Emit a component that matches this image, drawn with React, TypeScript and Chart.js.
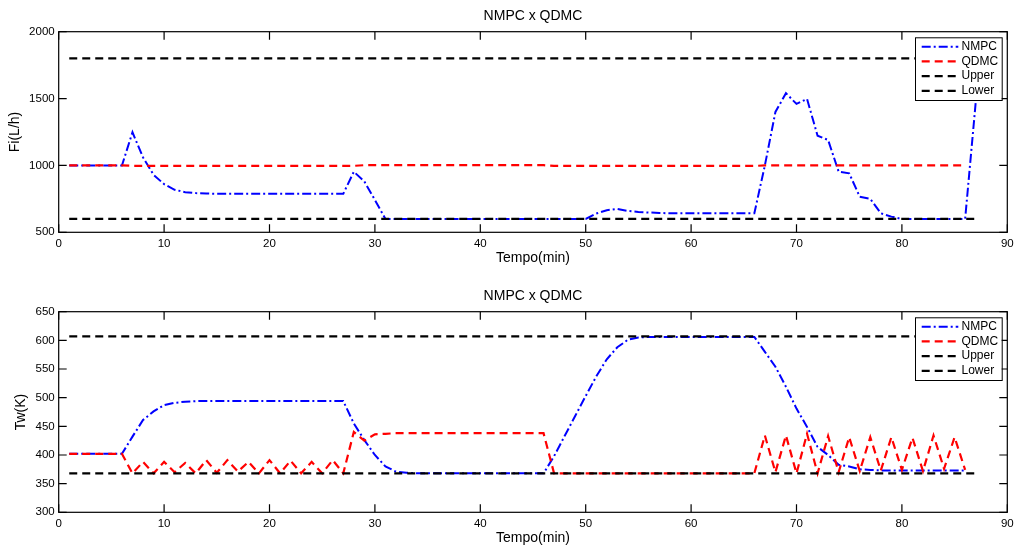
import React, { useEffect, useRef } from "react";
import { Chart, registerables } from "chart.js";
Chart.register(...registerables);

// ---- Data (time in minutes: sample index + 1) ----
const nmpcFi = [
  1000, 1000, 1000, 1000, 1000, 1000,
  1248, 1060, 930, 860, 818, 800, 793, 790,
  788, 788, 788, 788, 788, 788, 788, 788, 788, 788, 788, 788, 788,
  953, 880, 742,
  600, 600, 600, 600, 600, 600, 600, 600, 600, 600, 600, 600, 600, 600, 600, 600, 600, 600, 600, 600,
  640, 665, 675, 660, 652, 648, 645,
  642, 642, 642, 642, 642, 642, 642, 642, 642,
  1000, 1400, 1540, 1460, 1497, 1222, 1190, 953, 941, 766, 750, 642, 617,
  600, 600, 600, 600, 600, 600, 600,
  1470,
];
const qdmcFi = [
  1000, 1000, 1000, 1000, 1000, 1000,
  997, 997, 997, 997, 997, 997, 997, 997, 997, 997, 997, 997, 997, 997, 997, 997, 997, 997, 997, 997, 997, 997,
  1002, 1002, 1002, 1002, 1002, 1002, 1002, 1002, 1002, 1002, 1002, 1002, 1002, 1002, 1002, 1002, 1002, 1002,
  996, 996, 996, 996, 996, 996, 996, 996, 996, 996, 996, 996, 996, 996, 996, 996, 996, 996, 996, 996,
  1000, 1000, 1000, 1000, 1000, 1000, 1000, 1000, 1000, 1000, 1000, 1000, 1000, 1000, 1000, 1000, 1000, 1000, 1000, 1000,
];
const nmpcTw = [
  402, 402, 402, 402, 402, 402,
  432, 461, 476, 487, 491, 493,
  494, 494, 494, 494, 494, 494, 494, 494, 494, 494, 494, 494, 494, 494, 494,
  455, 426, 400, 380, 371, 369,
  368, 368, 368, 368, 368, 368, 368, 368, 368, 368, 368, 368, 368,
  398, 433, 468, 503, 537, 567, 588, 601, 605,
  606, 606, 606, 606, 606, 606, 606, 606, 606, 606, 606,
  580, 554, 519, 481, 449, 414, 400, 383, 380, 375, 374,
  373, 373, 373, 373, 373, 373, 373, 373, 373,
];
const qdmcTw = [
  402, 402, 402, 402, 402, 402,
  368, 388, 368, 388, 370, 386, 368, 391, 369, 391, 371, 388, 368, 391, 368, 390, 368, 388, 368, 391, 368,
  440, 425, 436, 437,
  438, 438, 438, 438, 438, 438, 438, 438, 438, 438, 438, 438, 438, 438, 438,
  368, 368, 368, 368, 368, 368, 368, 368, 368, 368, 368, 368, 368, 368, 368, 368, 368, 368, 368, 368,
  434, 370, 434, 368, 437, 368, 433, 370, 431, 372, 431, 373, 431, 374, 430, 372, 434, 376, 431, 374,
];
const limitTimes = [1, 87];
const fiUpper = [1800, 1800];
const fiLower = [600, 600];
const twUpper = [607, 607];
const twLower = [368, 368];

const xTicks = { min: 0, max: 90, step: 10 };
const fiTicks = { min: 500, max: 2000, step: 500 };
const twTicks = { min: 300, max: 650, step: 50 };

const seriesLabels = ["NMPC", "QDMC", "Upper", "Lower"];
const FONT = "'Liberation Sans', Arial, Helvetica, sans-serif";

const W = 1027;
const H = 270;
const AREA_RIGHT = 1007.3;
const AREA_LEFT = 58.7;
const AREA_TOP = 31.7;
const AREA_BOTTOM = 232.3;

const toPts = (vals: number[]) => vals.map((v, i) => ({ x: i + 1, y: v }));
const toLimitPts = (vals: number[]) => vals.map((v, i) => ({ x: limitTimes[i], y: v }));

const matlabPlugin = {
  id: "matlabFrame",
  afterDraw(chart: any, _args: any, opts: any) {
    const ctx = chart.ctx as CanvasRenderingContext2D;
    const a = chart.chartArea;
    const xs = chart.scales.x;
    const ys = chart.scales.y;
    ctx.save();
    ctx.strokeStyle = "#000";
    ctx.lineWidth = 1.2;
    ctx.setLineDash([]);
    ctx.strokeRect(a.left, a.top, a.right - a.left, a.bottom - a.top);
    const tl = 8;
    ctx.beginPath();
    xs.ticks.forEach((t: any) => {
      const px = xs.getPixelForValue(t.value);
      ctx.moveTo(px, a.bottom);
      ctx.lineTo(px, a.bottom - tl);
      ctx.moveTo(px, a.top);
      ctx.lineTo(px, a.top + tl);
    });
    ys.ticks.forEach((t: any) => {
      const py = ys.getPixelForValue(t.value);
      ctx.moveTo(a.left, py);
      ctx.lineTo(a.left + tl, py);
      ctx.moveTo(a.right, py);
      ctx.lineTo(a.right - tl, py);
    });
    ctx.stroke();

    ctx.fillStyle = "#000";
    ctx.font = `14px ${FONT}`;
    ctx.textAlign = "center";
    ctx.textBaseline = "middle";
    const cx = (a.left + a.right) / 2;
    ctx.fillText(opts.title, cx, 16.5);
    ctx.fillText(opts.xLabel, cx, 258);
    ctx.save();
    ctx.translate(opts.yLabelX, (a.top + a.bottom) / 2);
    ctx.rotate(-Math.PI / 2);
    ctx.fillText(opts.yLabel, 0, 0);
    ctx.restore();

    const lx = 915, ly = 37.3, lw = 86.7, lh = 62.7;
    ctx.fillStyle = "#fff";
    ctx.fillRect(lx, ly, lw, lh);
    ctx.strokeStyle = "#000";
    ctx.lineWidth = 1;
    ctx.setLineDash([]);
    ctx.strokeRect(lx + 0.5, ly + 0.5, lw, lh);
    ctx.font = `12px ${FONT}`;
    ctx.textAlign = "left";
    ctx.textBaseline = "middle";
    chart.data.datasets.forEach((ds: any, i: number) => {
      const yy = ly + 9.4 + i * 14.7;
      ctx.beginPath();
      ctx.strokeStyle = ds.borderColor;
      ctx.lineWidth = ds.borderWidth;
      ctx.setLineDash(ds.borderDash || []);
      ctx.moveTo(921.7, yy);
      ctx.lineTo(958.3, yy);
      ctx.stroke();
      ctx.setLineDash([]);
      ctx.fillStyle = "#000";
      ctx.fillText(ds.label, 961.5, yy);
    });
    ctx.restore();
  },
};

function buildConfig(
  nmpc: number[],
  qdmc: number[],
  upper: number[],
  lower: number[],
  yt: { min: number; max: number; step: number },
  yLabel: string,
  yLabelX: number
): any {
  return {
    type: "line",
    data: {
      datasets: [
        {
          label: seriesLabels[0],
          data: toPts(nmpc),
          borderColor: "#0000ff",
          borderWidth: 2,
          borderDash: [9, 3, 2, 3],
          pointRadius: 0,
          tension: 0,
          order: 3,
        },
        {
          label: seriesLabels[1],
          data: toPts(qdmc),
          borderColor: "#ff0000",
          borderWidth: 2.2,
          borderDash: [8, 5],
          pointRadius: 0,
          tension: 0,
          order: 2,
        },
        {
          label: seriesLabels[2],
          data: toLimitPts(upper),
          borderColor: "#000000",
          borderWidth: 2.2,
          borderDash: [8, 5],
          pointRadius: 0,
          order: 1,
        },
        {
          label: seriesLabels[3],
          data: toLimitPts(lower),
          borderColor: "#000000",
          borderWidth: 2.2,
          borderDash: [8, 5],
          pointRadius: 0,
          order: 0,
        },
      ],
    },
    options: {
      animation: false,
      responsive: false,
      maintainAspectRatio: false,
      layout: { padding: { left: 0, right: W - AREA_RIGHT, top: AREA_TOP, bottom: 0 } },
      plugins: {
        legend: { display: false },
        tooltip: { enabled: false },
        title: { display: false },
        matlabFrame: { title: "NMPC x QDMC", xLabel: "Tempo(min)", yLabel, yLabelX },
      },
      scales: {
        x: {
          type: "linear",
          min: xTicks.min,
          max: xTicks.max,
          grid: { display: false, drawTicks: false },
          border: { display: false },
          ticks: {
            stepSize: xTicks.step,
            autoSkip: false,
            maxRotation: 0,
            padding: 5,
            color: "#000",
            font: { size: 11.5, family: FONT },
            callback: (v: any) => String(v),
          },
          afterFit: (s: any) => {
            s.height = H - AREA_BOTTOM;
          },
        },
        y: {
          type: "linear",
          min: yt.min,
          max: yt.max,
          grid: { display: false, drawTicks: false },
          border: { display: false },
          ticks: {
            stepSize: yt.step,
            autoSkip: false,
            padding: 4,
            color: "#000",
            font: { size: 11.5, family: FONT },
            callback: (v: any) => String(v),
          },
          afterFit: (s: any) => {
            s.width = AREA_LEFT;
          },
        },
      },
    },
    plugins: [matlabPlugin],
  };
}

export default function App() {
  const topRef = useRef<HTMLCanvasElement>(null);
  const botRef = useRef<HTMLCanvasElement>(null);

  useEffect(() => {
    const c1 = new Chart(
      topRef.current as HTMLCanvasElement,
      buildConfig(nmpcFi, qdmcFi, fiUpper, fiLower, fiTicks, "Fi(L/h)", 15)
    );
    const c2 = new Chart(
      botRef.current as HTMLCanvasElement,
      buildConfig(nmpcTw, qdmcTw, twUpper, twLower, twTicks, "Tw(K)", 21.5)
    );
    return () => {
      c1.destroy();
      c2.destroy();
    };
  }, []);

  return (
    <div style={{ position: "absolute", left: 0, top: 0, width: W, height: 549, background: "#fff" }}>
      <canvas ref={topRef} width={W} height={H} style={{ position: "absolute", left: 0, top: 0 }} />
      <canvas ref={botRef} width={W} height={H} style={{ position: "absolute", left: 0, top: 280 }} />
    </div>
  );
}
